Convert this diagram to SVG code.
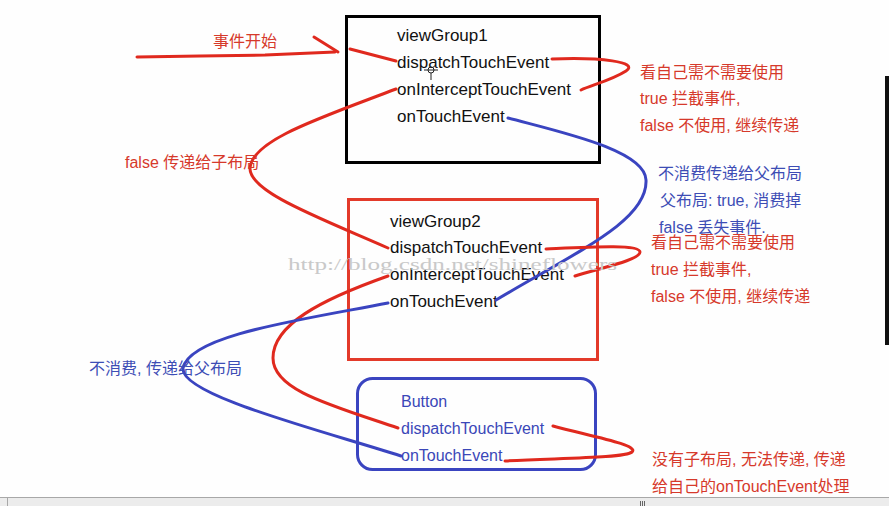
<svg xmlns="http://www.w3.org/2000/svg" width="889" height="506" viewBox="0 0 889 506">
<style>
  .t { font-family: "Liberation Sans", "Noto Sans CJK SC", sans-serif; font-size: 17px; fill: #111; }
  .tb { font-family: "Liberation Sans", "Noto Sans CJK SC", sans-serif; font-size: 16px; fill: #3a47b8; }
  .lr { font-family: "Liberation Sans", "Noto Sans CJK SC", sans-serif; font-size: 16px; fill: #d6392b; }
  .lb { font-family: "Liberation Sans", "Noto Sans CJK SC", sans-serif; font-size: 16px; fill: #3d4db5; }
  .red { fill: none; stroke: #e0291e; stroke-width: 3; stroke-linecap: round; stroke-linejoin: round; }
  .blue { fill: none; stroke: #3a44c0; stroke-width: 3; stroke-linecap: round; stroke-linejoin: round; }
  .wm { font-family: "Liberation Serif", serif; font-size: 16px; fill: #c9c9c9; }
</style>
<rect x="0" y="0" width="889" height="506" fill="#fefefe"/>

<g id="viewGroup1">
  <rect x="346.5" y="16.5" width="253" height="146" fill="none" stroke="#000" stroke-width="3"/>
  <text class="t" x="397" y="41">viewGroup1</text>
  <text class="t" x="397" y="68">dispatchTouchEvent</text>
  <text class="t" x="397" y="95">onInterceptTouchEvent</text>
  <text class="t" x="397" y="122">onTouchEvent</text>
</g>

<g id="viewGroup2">
  <rect x="348.5" y="199.5" width="249" height="160" fill="none" stroke="#e33a2a" stroke-width="3"/>
  <text class="t" x="390" y="227">viewGroup2</text>
  <text class="t" x="390" y="253">dispatchTouchEvent</text>
  <text class="t" x="390" y="280">onInterceptTouchEvent</text>
  <text class="t" x="390" y="307">onTouchEvent</text>
</g>

<g id="button">
  <rect x="357.5" y="378.5" width="238" height="91" rx="15" ry="15" fill="none" stroke="#3a44c0" stroke-width="3"/>
  <text class="tb" x="401" y="407">Button</text>
  <text class="tb" x="401" y="434" font-size="17">dispatchTouchEvent</text>
  <text class="tb" x="401" y="461" font-size="17">onTouchEvent</text>
</g>

<g id="connectors">
  <path class="red" d="M137,57 L200,56 L265,55 L335,52"/>
  <path class="red" d="M314,37 L338,52"/>
  <path class="red" d="M350,49 L396,61"/>
  <path class="red" d="M552,59 C600,57 640,62 626,71 C612,80 592,85 581,90"/>
  <path class="red" d="M396,89 C320,118 252,140 250,168 C249,192 320,218 388,248"/>
  <path class="blue" d="M508,118 C560,132 645,150 646,180 C648,220 580,250 496,300"/>
  <path class="red" d="M546,249 C590,247 640,244 640,252 C640,260 600,268 575,276"/>
  <path class="red" d="M388,276 C320,300 273,325 273,358 C273,390 330,405 398,428"/>
  <path class="blue" d="M388,303 C300,320 190,335 183,368 C180,395 320,430 401,456"/>
  <path class="red" d="M553,426 C590,436 640,445 632,452 C625,458 560,458 505,461"/>
</g>

<g id="labels">
  <text class="lr" x="213" y="47">事件开始</text>
  <text class="lr" x="640" y="78">看自己需不需要使用</text>
  <text class="lr" x="640" y="104">true 拦截事件,</text>
  <text class="lr" x="640" y="131">false 不使用, 继续传递</text>
  <text class="lr" x="125" y="168">false 传递给子布局</text>
  <text class="lb" x="658" y="179">不消费传递给父布局</text>
  <text class="lb" x="660" y="206">父布局: true, 消费掉</text>
  <text class="lb" x="659" y="233">false 丢失事件.</text>
  <text class="lr" x="651" y="248">看自己需不需要使用</text>
  <text class="lr" x="651" y="275">true 拦截事件,</text>
  <text class="lr" x="651" y="302">false 不使用, 继续传递</text>
  <text class="lb" x="89" y="374">不消费, 传递给父布局</text>
  <text class="lr" x="652" y="465">没有子布局, 无法传递, 传递</text>
  <text class="lr" x="652" y="492">给自己的onTouchEvent处理</text>
</g>

<text class="wm" x="288" y="270" textLength="329" lengthAdjust="spacingAndGlyphs">http://blog.csdn.net/shineflowers</text>

<g id="cursor" stroke="#222" stroke-width="1" fill="none">
  <circle cx="431" cy="70" r="3"/>
  <line x1="424" y1="70" x2="438" y2="70"/>
  <line x1="431" y1="73" x2="431" y2="80"/>
</g>

<rect x="885" y="76" width="4" height="269" fill="#111"/>

<g id="scrollbar">
  <rect x="0" y="497" width="889" height="9" fill="#ececec"/>
  <line x1="0" y1="497.5" x2="889" y2="497.5" stroke="#a8a8a8" stroke-width="1"/>
  <line x1="7.5" y1="498" x2="7.5" y2="506" stroke="#a8a8a8" stroke-width="1"/>
  <line x1="640.5" y1="501" x2="640.5" y2="506" stroke="#666" stroke-width="1"/>
  <line x1="642.5" y1="501" x2="642.5" y2="506" stroke="#666" stroke-width="1"/>
  <line x1="644.5" y1="501" x2="644.5" y2="506" stroke="#666" stroke-width="1"/>
</g>
</svg>
